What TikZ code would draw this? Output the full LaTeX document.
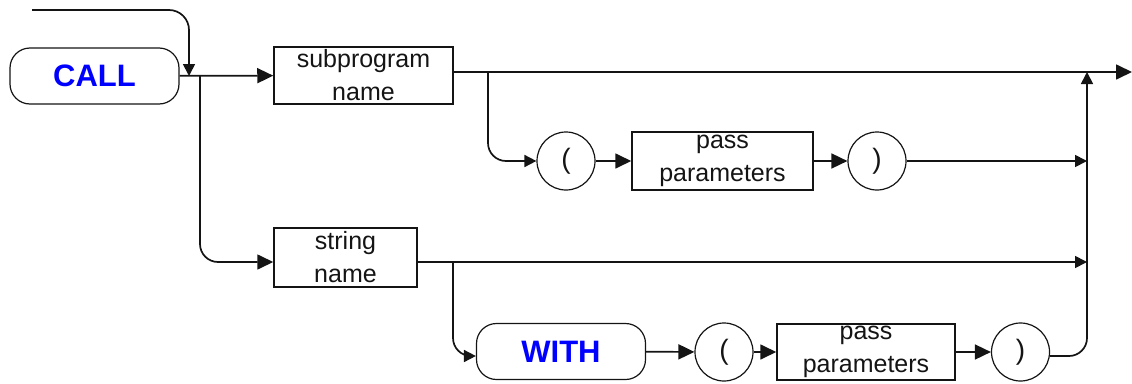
\documentclass[tikz,border=0pt]{standalone}
\usepackage{fontspec}
\setmainfont{Liberation Sans}
\usetikzlibrary{arrows.meta}
\definecolor{kw}{RGB}{0,0,255}
\definecolor{ink}{RGB}{20,20,20}
\begin{document}
\begin{tikzpicture}[x=1pt,y=-1pt,
  line/.style={line width=1.7pt,draw=ink},
  big/.style={-{Triangle[length=16pt,width=15pt]}},
  small/.style={-{Triangle[length=12pt,width=12pt]}},
  term/.style={draw=ink,line width=1.2pt,rounded corners=20pt,minimum width=169pt,
    minimum height=56pt,inner sep=0pt,font=\fontsize{31}{31}\selectfont\bfseries,text=kw},
  nt/.style={draw=ink,line width=1.5pt,align=center,inner sep=0pt,text=ink,
    font=\fontsize{25}{33}\selectfont},
  tok/.style={draw=ink,circle,line width=1.2pt,minimum size=58pt,inner sep=0pt,text=ink,
    font=\fontsize{28}{28}\selectfont}
]
\useasboundingbox (0,0) rectangle (1132,383);

% syntax elements
\node[term] (call) at (94.5,76) {CALL};
\node[nt,minimum width=179pt,minimum height=57pt] (sub) at (363.5,75.5) {subprogram\\name};
\node[tok] (lp1) at (566,161) {(};
\node[nt,minimum width=181pt,minimum height=58pt] (pp1) at (722.5,161) {pass\\parameters};
\node[tok] (rp1) at (877,161) {)};
\node[nt,minimum width=143pt,minimum height=59pt] (str) at (345.5,257.5) {string\\name};
\node[term] (with) at (561,351.5) {WITH};
\node[tok] (lp2) at (724,352) {(};
\node[nt,minimum width=178pt,minimum height=56pt] (pp2) at (866,352) {pass\\parameters};
\node[tok] (rp2) at (1020.5,352) {)};

% rows and junctions
\coordinate (start) at (32,10);
\coordinate (j0) at (189,76);
\coordinate (b0) at (200,76);
\coordinate (rowA) at (0,72);
\coordinate (rowB) at (0,262);
\coordinate (rowC) at (0,356);
\coordinate (b1) at (488,72);
\coordinate (b2) at (453,262);
\coordinate (rv1) at (1087,161);
\coordinate (rv2) at (1087,262);
\coordinate (rvTop) at (1087,72);
\coordinate (out) at (1132,72);

% entry
\draw[line,small,rounded corners=20pt] (start) -| (j0);
\draw[line,big] (call) -- (sub);
\draw[line,big,rounded corners=18pt] (b0) |- (str.west |- rowB);

% subprogram path
\draw[line,big] (sub.east |- rowA) -- (out);
\draw[line,small,rounded corners=18pt] (b1) |- (lp1.west);
\draw[line,big] (lp1) -- (pp1);
\draw[line,big] (pp1) -- (rp1);
\draw[line,small] (rp1) -- (rv1);

% string path
\draw[line,small] (str.east |- rowB) -- (rv2);
\draw[line,small,rounded corners=18pt] (b2) |- (with.west |- rowC);
\draw[line,big] (with) -- (lp2);
\draw[line,big] (lp2) -- (pp2);
\draw[line,big] (pp2) -- (rp2);
\draw[line,small,rounded corners=18pt] (rp2.east |- rowC) -| (rvTop);
\end{tikzpicture}
\end{document}
